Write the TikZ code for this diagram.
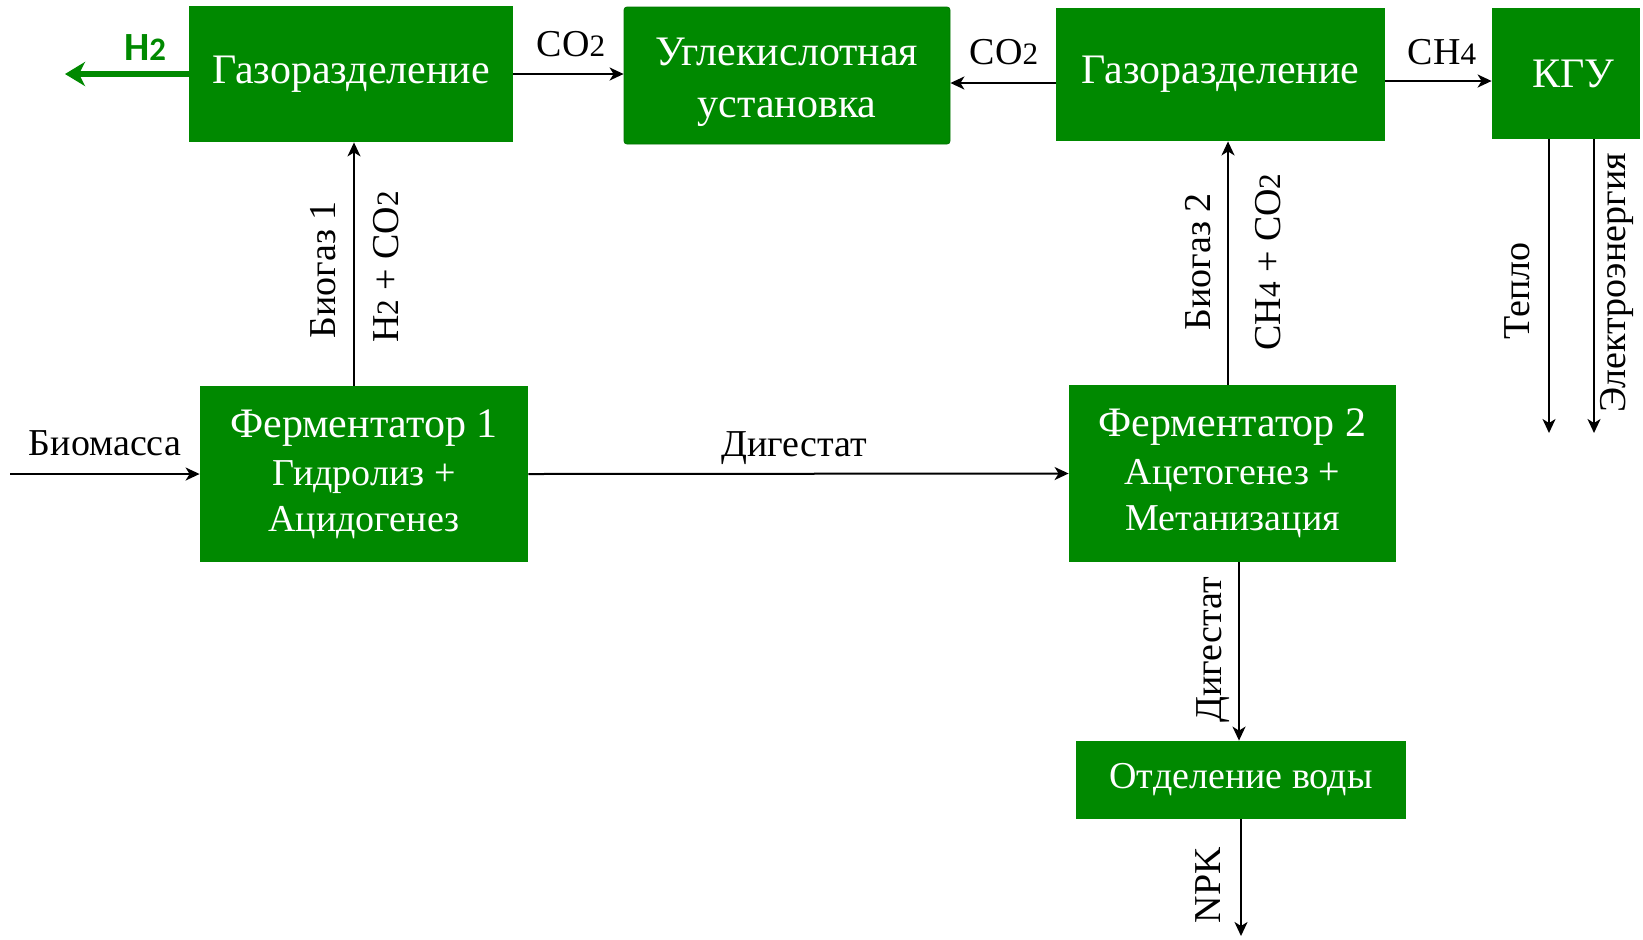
\documentclass[tikz,border=0pt]{standalone}
\usepackage{fontspec}
\setmainfont{Liberation Serif}
\newfontfamily\hfont{Carlito}
\usetikzlibrary{arrows.meta}
\definecolor{boxgreen}{RGB}{0,137,0}
\newcommand{\ix}[1]{\scalebox{0.82}{#1}}
\newcommand{\bigfont}{\fontsize{21}{24}\selectfont}
\newcommand{\midfont}{\fontsize{19}{22}\selectfont}
\begin{document}
\begin{tikzpicture}[x=0.5pt,y=-0.5pt,line join=round,
		>={Stealth[length=7pt,width=6.5pt,inset=2pt]},
		box/.style={fill=boxgreen,text=white,inner sep=0pt,align=center,font=\bigfont},
		lbl/.style={font=\midfont,inner sep=0pt},
		flow/.style={->,line width=1pt},
		hflow/.style={-{Stealth[length=10pt,width=12pt,inset=3pt]},line width=3pt,boxgreen}]
	\useasboundingbox (0,0) rectangle (1643,939);
	%Blocks
	\node[box,minimum width=162pt,minimum height=68pt] (gas1) at (351,74) {Газоразделение};
	\node[box,minimum width=163pt,minimum height=68.5pt,rounded corners=1.5pt,draw=boxgreen!85!black,line width=0.4pt] (ugl) at (787,75.5) {\rule{0pt}{20.7pt}Углекислотная\\[2pt]установка};
	\node[box,minimum width=164.5pt,minimum height=66.5pt] (gas2) at (1220.5,74.5) {Газоразделение};
	\node[box,minimum width=74pt,minimum height=65.5pt,text depth=-2pt] (kgu) at (1566,73.5) {\hspace*{7pt}КГУ};
	\node[box,minimum width=164pt,minimum height=88pt] (ferm1) at (364,474) {Ферментатор 1\\{\midfont Гидролиз +}\\[-1pt]{\midfont Ацидогенез}};
	\node[box,minimum width=163.5pt,minimum height=88.5pt] (ferm2) at (1232.5,473.5) {Ферментатор 2\\{\midfont Ацетогенез +}\\[-1pt]{\midfont Метанизация}};
	\node[box,minimum width=165pt,minimum height=39pt,font=\midfont] (water) at (1241,780) {Отделение воды};
	%Free ends
	\coordinate (h2end) at (65,74);
	\coordinate (bmstart) at (10,474);
	\coordinate (bio1) at (354,0);
	\coordinate (bio2) at (1228,0);
	\coordinate (dig2) at (1239,0);
	\coordinate (teplo) at (1549,433);
	\coordinate (elec) at (1594,433);
	\coordinate (npk) at (1241,936);
	%Top row
	\draw[hflow] (gas1.west) -- (h2end);
	\draw[flow] (gas1.east) -- (gas1.east -| ugl.west);
	\draw[flow] ([yshift=-4.25pt]gas2.west) -- ([yshift=-4.25pt]gas2.west -| ugl.east);
	\draw[flow] ([yshift=-3.25pt]gas2.east) -- ([yshift=-3.25pt]gas2.east -| kgu.west);
	\draw[flow] (kgu.south -| teplo) -- (teplo);
	\draw[flow] (kgu.south -| elec) -- (elec);
	%Biogas
	\draw[flow] (ferm1.north -| bio1) -- (gas1.south -| bio1);
	\draw[flow] (ferm2.north -| bio2) -- (gas2.south -| bio2);
	%Middle row
	\draw[flow] (bmstart) -- (ferm1.west);
	\draw[flow] (ferm1.east) -- (ferm2.west);
	\draw[flow] (ferm2.south -| dig2) -- (water.north -| dig2);
	\draw[flow] (water.south) -- (npk);
	%Labels
	\node[font=\hfont\bfseries\fontsize{20}{22}\selectfont,text=boxgreen,inner sep=0pt] (h2) at (145,48) {H\ix{2}};
	\node[lbl] (co2a) at (571,44) {CO\ix{2}};
	\node[lbl] (co2b) at (1004,52) {CO\ix{2}};
	\node[lbl] (ch4) at (1442,52) {CH\ix{4}};
	\node[lbl,rotate=90] (lteplo) at (1517,291) {Тепло};
	\node[lbl,rotate=90] (lelec) at (1617,283) {Электроэнергия};
	\node[lbl,rotate=90] (lbio1) at (323,270) {Биогаз 1};
	\node[lbl,rotate=90] (lgas1) at (386,267) {H\ix{2} + CO\ix{2}};
	\node[lbl,rotate=90] (lbio2) at (1198,262) {Биогаз 2};
	\node[lbl,rotate=90] (lgas2) at (1268,262) {CH\ix{4} + CO\ix{2}};
	\node[lbl] (lbm) at (105,443) {Биомасса};
	\node[lbl] (ldig1) at (794,448) {Дигестат};
	\node[lbl,rotate=90] (ldig2) at (1213,650) {Дигестат};
	\node[lbl,rotate=90] (lnpk) at (1208,885) {NPK};
\end{tikzpicture}
\end{document}
